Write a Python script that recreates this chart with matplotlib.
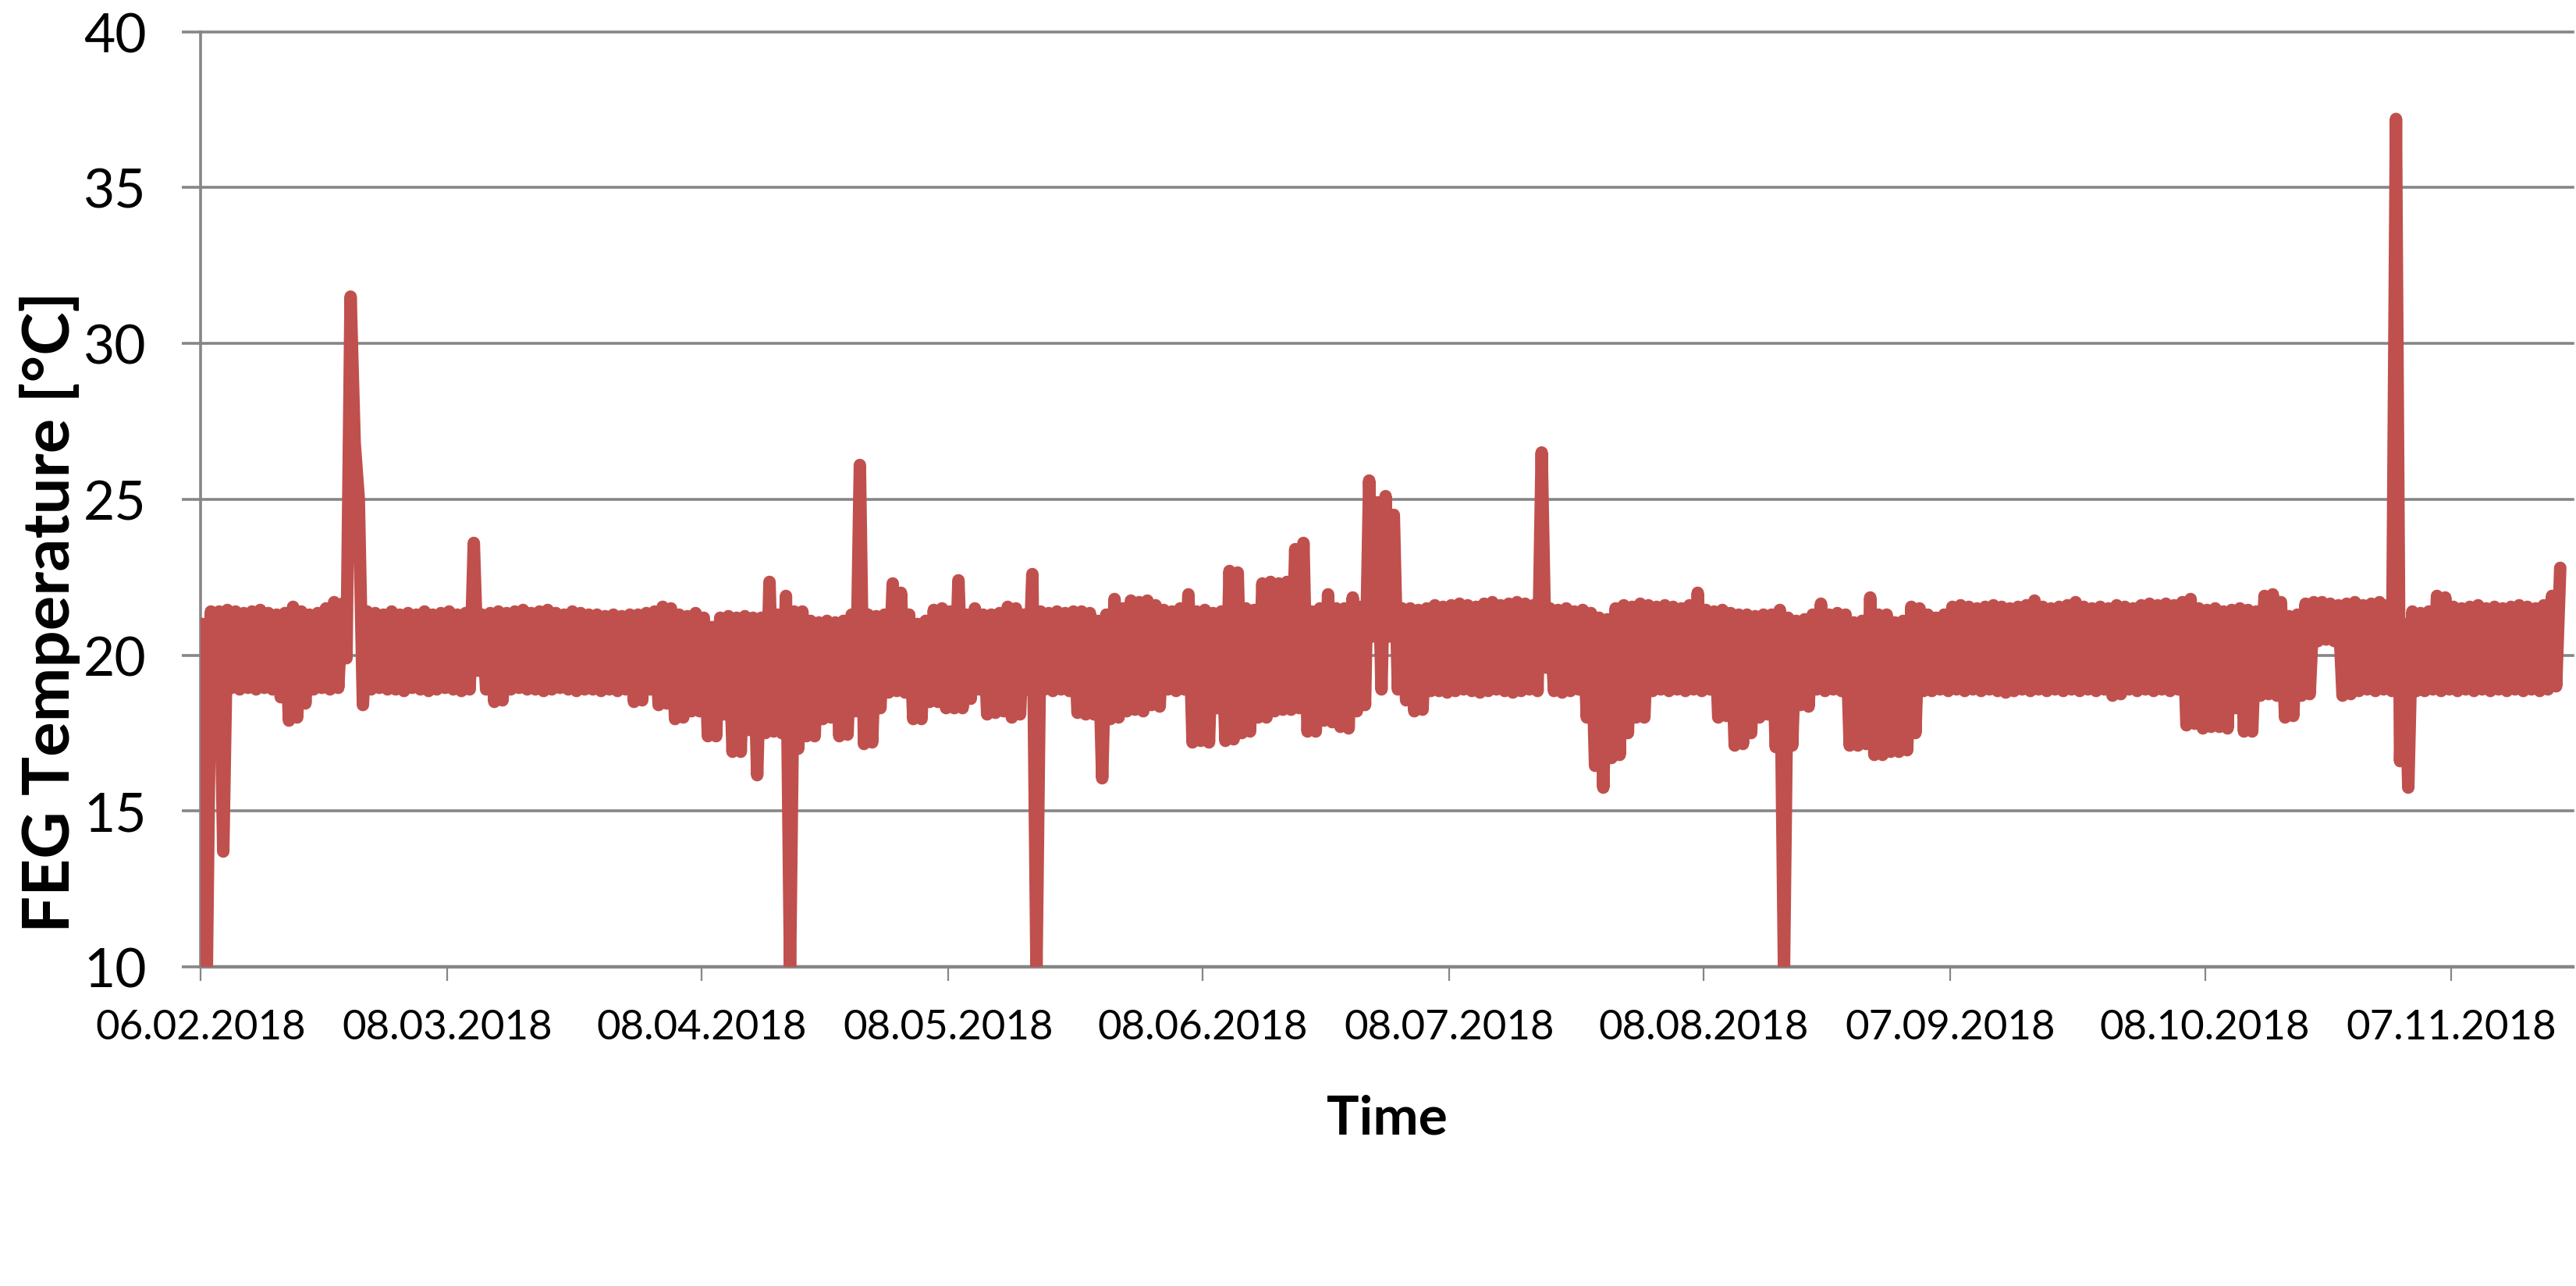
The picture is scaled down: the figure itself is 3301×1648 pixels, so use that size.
import matplotlib
matplotlib.use('Agg')
import matplotlib.pyplot as plt
import matplotlib.dates as mdates
import numpy as np

start = '06.02.2018'
tick_labels = ['06.02.2018', '08.03.2018', '08.04.2018', '08.05.2018', '08.06.2018',
               '08.07.2018', '08.08.2018', '07.09.2018', '08.10.2018', '07.11.2018']
y_ticks = [10, 15, 20, 25, 30, 35, 40]

daily_max = [
    21.0, 21.4, 21.4, 21.45, 21.4, 21.35, 21.4, 21.45, 21.35, 21.3,
    21.35, 21.55, 21.4, 21.3, 21.35, 21.5, 21.7, 21.65, 31.5, 25.0,
    21.4, 21.35, 21.3, 21.4, 21.3, 21.35, 21.3, 21.4, 21.3, 21.35,
    21.4, 21.3, 21.35, 23.6, 21.3, 21.35, 21.4, 21.35, 21.4, 21.45,
    21.35, 21.4, 21.45, 21.35, 21.3, 21.4, 21.35, 21.3, 21.3, 21.25,
    21.3, 21.25, 21.3, 21.3, 21.35, 21.4, 21.55, 21.5, 21.3, 21.25,
    21.35, 21.2, 20.9, 21.2, 21.25, 21.2, 21.25, 21.2, 21.2, 22.35,
    21.3, 21.9, 21.4, 21.4, 21.1, 21.05, 21.1, 21.05, 21.1, 21.3,
    26.1, 21.3, 21.25, 21.3, 22.3, 22.0, 21.3, 21.0, 21.1, 21.45,
    21.5, 21.4, 22.4, 21.3, 21.5, 21.3, 21.3, 21.35, 21.55, 21.5,
    21.3, 22.6, 21.4, 21.35, 21.4, 21.35, 21.4, 21.4, 21.35, 21.1,
    21.3, 21.8, 21.5, 21.75, 21.7, 21.75, 21.6, 21.45, 21.4, 21.5,
    21.95, 21.4, 21.45, 21.35, 21.4, 22.7, 22.65, 21.5, 21.45, 22.3,
    22.35, 22.3, 22.35, 23.4, 23.6, 21.4, 21.5, 21.95, 21.5, 21.5,
    21.85, 21.55, 25.6, 24.9, 25.1, 24.5, 21.5, 21.5, 21.45, 21.5,
    21.6, 21.55, 21.6, 21.65, 21.6, 21.55, 21.65, 21.7, 21.6, 21.65,
    21.7, 21.65, 21.6, 26.5, 21.5, 21.45, 21.5, 21.4, 21.45, 21.35,
    21.2, 21.15, 21.5, 21.6, 21.55, 21.65, 21.6, 21.55, 21.6, 21.55,
    21.5, 21.6, 22.0, 21.45, 21.4, 21.45, 21.35, 21.3, 21.3, 21.25,
    21.3, 21.3, 21.45, 21.2, 21.1, 21.15, 21.3, 21.65, 21.3, 21.35,
    21.3, 21.05, 21.1, 21.85, 21.3, 21.3, 21.05, 21.1, 21.55, 21.5,
    21.3, 21.2, 21.3, 21.55, 21.6, 21.55, 21.5, 21.55, 21.6, 21.55,
    21.5, 21.55, 21.6, 21.75, 21.55, 21.5, 21.55, 21.6, 21.7, 21.55,
    21.5, 21.55, 21.5, 21.6, 21.55, 21.5, 21.6, 21.65, 21.6, 21.65,
    21.6, 21.7, 21.8, 21.5, 21.45, 21.5, 21.4, 21.45, 21.5, 21.45,
    21.4, 21.9, 21.95, 21.7, 21.25, 21.3, 21.65, 21.7, 21.7, 21.65,
    21.6, 21.65, 21.7, 21.6, 21.65, 21.7, 21.6, 37.2, 21.0, 21.4,
    21.35, 21.4, 21.9, 21.85, 21.55, 21.5, 21.55, 21.6, 21.5, 21.55,
    21.5, 21.55, 21.6, 21.55, 21.5, 21.6, 21.9, 22.8,
]

daily_min = [
    9.9, 18.3, 13.7, 18.95, 18.9, 18.95, 18.9, 18.95, 18.9, 18.65,
    17.9, 18.0, 18.45, 18.9, 18.95, 18.9, 18.95, 19.9, 26.8, 18.4,
    18.9, 18.95, 18.9, 18.9, 18.85, 18.95, 18.9, 18.85, 18.9, 18.95,
    18.9, 18.85, 18.9, 19.5, 18.9, 18.5, 18.55, 18.9, 18.95, 18.9,
    18.9, 18.85, 18.9, 18.95, 18.9, 18.85, 18.9, 18.9, 18.85, 18.9,
    18.85, 18.9, 18.5, 18.55, 18.9, 18.4, 18.45, 17.95, 18.0, 18.2,
    18.2, 17.4, 17.4, 18.1, 16.9, 16.9, 17.6, 16.15, 17.5, 17.55,
    17.5, 9.9, 17.0, 17.4, 17.4, 17.95, 18.0, 17.4, 17.45, 18.2,
    17.15, 17.2, 18.3, 18.8, 18.85, 18.8, 17.95, 17.95, 18.5, 18.5,
    18.3, 18.3, 18.3, 18.6, 18.9, 18.1, 18.15, 18.2, 18.0, 18.1,
    18.9, 9.9, 18.9, 18.85, 18.9, 18.85, 18.15, 18.1, 18.1, 16.05,
    17.95, 18.0, 18.2, 18.25, 18.2, 18.4, 18.35, 18.9, 18.85, 18.9,
    17.2, 17.25, 17.2, 18.3, 17.25, 17.3, 17.5, 17.55, 18.0, 18.0,
    18.2, 18.25, 18.25, 18.3, 17.55, 17.55, 17.9, 17.85, 17.7, 17.65,
    18.2, 18.4, 20.6, 18.9, 20.6, 18.9, 18.55, 18.2, 18.25, 18.85,
    18.85, 18.8, 18.85, 18.9, 18.85, 18.8, 18.85, 18.9, 18.85, 18.8,
    18.85, 18.9, 18.85, 19.6, 18.85, 18.8, 18.85, 18.9, 18.0, 16.45,
    15.75, 16.7, 16.8, 17.5, 18.0, 18.0, 18.85, 18.9, 18.85, 18.9,
    18.85, 18.9, 18.85, 18.9, 18.0, 18.05, 17.1, 17.15, 17.5, 18.0,
    18.1, 17.05, 9.9, 17.1, 18.4, 18.35, 18.9, 18.85, 18.9, 18.85,
    17.1, 17.1, 17.15, 16.8, 16.8, 16.9, 16.9, 16.95, 17.5, 18.85,
    18.85, 18.9, 18.85, 18.9, 18.85, 18.9, 18.85, 18.9, 18.85, 18.8,
    18.85, 18.9, 18.85, 18.9, 18.85, 18.9, 18.85, 18.9, 18.85, 18.9,
    18.85, 18.9, 18.7, 18.75, 18.9, 18.85, 18.9, 18.85, 18.9, 18.85,
    18.9, 17.75, 17.8, 17.65, 17.7, 17.7, 17.65, 18.3, 17.55, 17.55,
    18.7, 18.75, 18.7, 18.0, 18.05, 18.7, 18.75, 20.45, 20.5, 20.45,
    18.7, 18.75, 18.85, 18.9, 18.85, 18.9, 18.85, 16.6, 15.75, 18.85,
    18.85, 18.9, 18.85, 18.9, 18.85, 18.9, 18.85, 18.9, 18.85, 18.9,
    18.85, 18.9, 18.85, 18.9, 18.85, 18.9, 19.0,
]

LINE_RED = '#C0504D'
GRID_GRAY = '#868686'


def to_date(s):
    d, m, y = s.split('.')
    return np.datetime64(f'{y}-{m}-{d}T00:00')


def main():
    plt.rcParams['font.family'] = ['Lato', 'DejaVu Sans']
    t0 = to_date(start)

    # high in the morning, low in the evening of every day
    times, temps = [], []
    for day, hi in enumerate(daily_max):
        times.append(t0 + np.timedelta64(day * 24 + 6, 'h'))
        temps.append(hi)
        if day < len(daily_min):
            times.append(t0 + np.timedelta64(day * 24 + 18, 'h'))
            temps.append(daily_min[day])

    fig = plt.figure(figsize=(33.01, 16.49), dpi=100)
    ax = fig.add_axes([0.0779, 0.248, 0.9209, 0.7268])

    ax.plot(times, temps, color=LINE_RED, lw=11.5,
            solid_joinstyle='round', solid_capstyle='round', zorder=3)

    ax.set_ylim(10, 40)
    ax.set_yticks(y_ticks)
    ax.set_xlim(t0, t0 + np.timedelta64(6931, 'h'))
    ax.set_xticks([to_date(s) for s in tick_labels])
    ax.xaxis.set_major_formatter(mdates.DateFormatter('%d.%m.%Y'))

    ax.set_axisbelow(True)
    ax.grid(axis='y', color=GRID_GRAY, lw=2.6)
    for gl in ax.get_ygridlines():
        gl.set_clip_on(False)

    for side in ['top', 'right']:
        ax.spines[side].set_visible(False)
    ax.spines['left'].set_color(GRID_GRAY)
    ax.spines['left'].set_linewidth(2.6)
    ax.spines['bottom'].set_color(GRID_GRAY)
    ax.spines['bottom'].set_linewidth(3.2)

    ax.tick_params(axis='y', direction='out', length=17, width=2.6,
                   color=GRID_GRAY, labelsize=50, pad=33)
    ax.tick_params(axis='x', direction='out', length=13, width=1.6,
                   color=GRID_GRAY, labelsize=38, pad=26)

    ax.set_xlabel('Time', fontsize=50, fontweight='bold', labelpad=44)
    fig.text(64 / 3301, 1 - 784 / 1649, 'FEG Temperature [°C]', rotation=90,
             fontsize=60, fontweight='bold', ha='center', va='center')

    fig.savefig('out.png', dpi=100, facecolor='white')


if __name__ == '__main__':
    main()
